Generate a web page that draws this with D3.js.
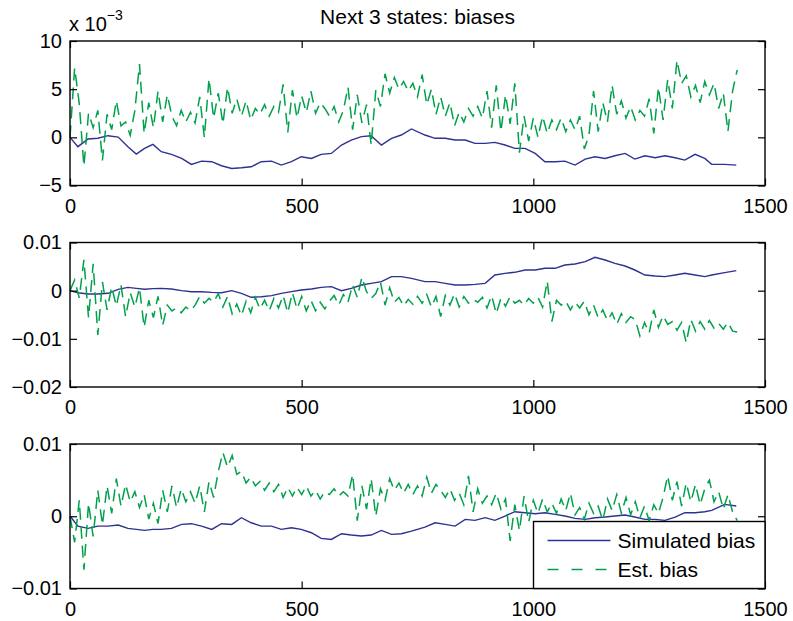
<!DOCTYPE html>
<html>
<head>
<meta charset="utf-8">
<style>
  body { margin: 0; background: #fff; }
  svg text { font-family: Helvetica, "Liberation Sans", Arial, sans-serif; fill: #000; }
</style>
<title>Next 3 states: biases</title>
</head>
<body>
<script src="https://cdn.jsdelivr.net/npm/d3@7"></script>
<script>

// time grid of the simulated bias readings (samples)
var tSim = [0,17,39,60,82,104,125,143,161,179,197,219,241,262,284,306,327,349,370,391,
  413,435,456,478,499,521,542,564,586,607,629,650,672,694,715,737,
  766,788,810,831,853,874,896,917,939,960,982,1004,1025,1047,1068,1090,1112,1133,1155,1176,
  1198,1219,1241,1263,1284,1306,1327,1349,1370,1385,1413,1438];

// all values are in units of 1e-3
var sim1 = [0,-0.97,-0.17,-0.1,0.17,0.03,-0.97,-1.74,-1.15,-0.73,-1.49,-1.77,-2.19,-2.81,-2.47,-2.53,-2.95,-3.23,-3.16,-3.06,
  -2.53,-2.47,-2.88,-2.53,-2.01,-2.19,-1.77,-1.67,-0.8,-0.28,0.07,0.17,-0.8,-0.1,0.24,0.87,
  0.24,-0.1,-0.1,-0.28,-0.28,-0.63,-0.63,-0.52,-0.8,-1.15,-1.15,-1.67,-2.53,-2.53,-2.47,-2.88,-2.26,-2.01,-2.19,-1.91,
  -1.67,-2.26,-1.91,-2.12,-1.91,-2.12,-2.36,-1.77,-2.19,-2.81,-2.81,-2.88];

var sim2 = [0,-0.42,-0.69,-0.69,-0.55,0.28,0.69,0.48,0.28,0.42,0.48,0.35,0,-0.21,-0.21,-0.35,-0.42,0,-0.55,-1.38,
  -1.25,-1.04,-0.55,-0.21,0.14,0.35,0.69,0.83,0,0.48,1.18,1.52,1.87,2.91,2.91,2.56,
  1.87,1.87,1.52,1.18,1.18,1.31,1.52,3.25,3.6,3.81,4.29,4.29,4.64,4.64,5.33,5.54,6.02,6.92,6.37,5.67,
  5.12,4.29,3.25,3.04,2.91,3.25,3.6,3.25,2.91,3.25,3.74,4.15];

var sim3 = [0.03,-1.36,-1.68,-1.36,-1.36,-1.22,-1.68,-1.82,-1.96,-1.82,-1.82,-1.68,-1.13,-1.03,-1.36,-1.82,-1.03,-1.13,-0.2,-0.9,
  -1.36,-1.36,-1.82,-1.59,-1.82,-2.28,-3.07,-3.21,-2.42,-2.6,-2.74,-2.6,-1.96,-2.51,-2.42,-2.05,
  -1.5,-0.9,-1.13,-1.36,-0.43,-0.57,-0.2,-0.57,0.03,0.63,0.49,0.35,0.49,0.26,0.03,-0.3,-0.43,-0.2,-0.11,0.03,
  0.17,-0.11,-0.43,-0.43,-0.57,-0.11,0.49,0.49,0.63,0.81,1.64,1.41];

// estimated bias, one reading every 10 samples from 0 to 1440
var tEst = d3.range(0, 1441, 10);

var est1 = [0,7.2,3.5,-3.0,2.5,1.0,2.8,-2.4,2.4,0.8,
  3.8,1.2,1.6,0.2,2.8,7.6,0.4,3.6,1.0,4.8,
  1.6,4.4,2.2,1.2,2.8,1.6,2.6,1.5,4.2,0.0,
  6.1,2.0,4.6,1.4,5.2,2.5,4.0,2.2,3.8,1.8,
  3.0,2.4,3.4,2.2,3.2,2.6,5.5,0.5,4.9,2.0,
  4.3,2.6,4.8,2.5,3.6,3.0,2.2,3.2,1.6,2.8,
  5.2,0.8,4.4,1.5,3.4,-0.8,4.9,3.2,6.6,4.6,
  6.2,5.0,5.8,4.8,5.6,4.2,6.5,3.4,5.0,2.4,
  4.2,2.2,3.6,1.2,2.6,1.6,3.0,2.2,3.2,2.0,
  4.8,1.0,5.4,0.6,4.4,1.4,5.6,-1.6,2.2,-0.4,
  2.0,0.0,2.2,0.4,1.8,0.8,2.0,0.6,1.8,0.8,
  2.2,-1.2,0.2,4.8,0.6,3.6,1.6,5.4,2.4,3.8,
  2.0,3.2,1.8,2.8,2.2,4.0,0.4,5.2,1.8,6.0,
  3.0,8.0,5.6,6.4,4.2,5.4,3.6,5.8,4.4,5.6,
  3.0,4.6,0.6,4.8,7.0];

var est2 = [0,2.2,-1.5,6.4,-5.6,5.6,-9.2,1.8,-4.0,0.8,
  -3.2,1.2,-5.4,-0.4,-3.4,0.6,-7.6,-2.0,-5.6,-1.2,
  -7.2,-3.0,-4.2,-3.6,-4.6,-3.4,-4.2,-3.0,-1.2,-2.6,
  -1.6,-2.4,-0.6,-3.4,-1.2,-4.8,-2.8,-5.2,-2.2,-4.6,
  -1.4,-3.8,-2.0,-4.2,-1.6,-3.6,-1.0,-4.6,-0.4,-3.8,
  -1.2,-4.2,-2.0,-4.2,-2.4,-3.8,-2.2,-1.0,-3.0,-0.8,
  -2.4,1.2,-1.4,2.8,-0.2,-1.6,-0.6,1.8,-3.0,0.6,
  -2.4,-1.4,-3.2,-1.8,-2.8,-1.2,-2.6,-0.8,-3.4,-1.2,
  -5.4,-1.0,-3.0,-0.6,-3.4,-1.2,-2.6,-1.8,-2.4,-1.4,
  -3.6,-1.0,-4.8,-1.6,-3.2,-1.2,-2.6,-2.0,-3.0,-1.6,
  -2.6,-1.4,-3.4,2.0,-6.4,-2.0,-3.0,-2.2,-4.0,-2.4,
  -3.6,-2.2,-5.0,-3.0,-5.6,-4.0,-6.2,-4.6,-7.0,-4.8,
  -6.6,-5.4,-6.0,-9.4,-6.6,-8.8,-4.0,-7.6,-5.2,-7.0,
  -6.4,-8.2,-6.6,-10.8,-6.0,-8.4,-6.4,-8.0,-6.2,-7.8,
  -6.8,-8.0,-6.6,-8.4,-8.6];

var est3 = [0,-3.6,2.2,-7.4,1.8,-2.8,3.6,-1.2,4.2,0.4,
  5.2,1.4,4.4,2.0,3.4,1.2,3.0,-0.4,1.8,-1.0,
  3.6,0.6,4.2,1.2,3.8,2.0,3.4,1.8,4.2,0.6,
  4.8,2.6,6.2,8.8,6.8,8.4,5.8,6.2,4.6,5.4,
  4.2,4.8,3.6,4.6,3.4,4.4,2.6,4.0,2.8,4.0,
  3.0,4.2,2.8,3.6,2.4,3.4,3.0,3.8,2.8,3.4,
  2.8,5.8,-0.6,4.2,1.0,5.2,0.0,3.8,2.2,5.2,
  3.6,4.6,3.2,4.4,3.0,4.2,2.8,5.4,3.2,4.4,
  3.6,2.6,3.8,2.2,3.2,1.6,5.6,0.6,3.8,1.8,
  2.8,1.6,3.2,1.0,2.4,-3.4,1.6,-2.0,2.8,-0.8,
  2.2,0.4,2.4,0.6,1.8,0.4,2.4,0.8,3.2,0.2,
  1.2,-0.4,1.8,0.4,1.4,-0.6,2.4,0.8,3.0,0.4,
  2.6,0.2,2.0,-0.2,1.4,-0.6,1.6,0.4,2.6,5.6,
  2.2,4.8,1.4,4.6,2.0,4.4,1.6,3.8,5.0,2.0,
  3.4,1.0,3.0,0.6,-0.6];

var xTicks = [0, 500, 1000, 1500];
var yDomains = [[-5, 10], [-20, 10], [-10, 10]];
var yTicks = [[-5, 0, 5, 10], [-20, -10, 0, 10], [-10, 0, 10]];
var legendLabels = ["Simulated bias", "Est. bias"];

var simColor = "#2e3192", estColor = "#00a14b";

var W = 793, H = 621;
var left = 70, right = 765, plotH = 144.5;
var tops = [41, 242.5, 444];
var fontSize = 20, labelSize = 21;

var svg = d3.select("body").append("svg")
    .attr("width", W)
    .attr("height", H);

var x = d3.scaleLinear().domain([0, 1500]).range([left, right]);

function minus(s) { return String(s).replace("-", "\u2212"); }
var fmts = [
  d => minus(d),
  d => d === 0 ? "0" : minus(d / 1000),
  d => d === 0 ? "0" : minus(d / 1000)
];

var sims = [sim1, sim2, sim3];
var ests = [est1, est2, est3];

sims.forEach((sim, i) => {
  var top = tops[i], bottom = top + plotH;
  var y = d3.scaleLinear().domain(yDomains[i]).range([bottom, top]);

  var g = svg.append("g");

  // lines first, the box and ticks go over them
  var line = d3.line().x(d => x(d[0])).y(d => y(d[1]));

  g.append("path")
    .datum(tSim.map((t, k) => [t, sim[k]]))
    .attr("d", line)
    .attr("fill", "none")
    .attr("stroke", simColor)
    .attr("stroke-width", 1.4);

  g.append("path")
    .datum(tEst.map((t, k) => [t, ests[i][k]]))
    .attr("d", line)
    .attr("fill", "none")
    .attr("stroke", estColor)
    .attr("stroke-width", 1.5)
    .attr("stroke-dasharray", "12,7");

  // axes with inward ticks on all four sides
  g.append("g").attr("transform", `translate(0,${bottom})`)
    .call(d3.axisBottom(x).tickValues(xTicks).tickSizeInner(-7).tickSizeOuter(0)
      .tickPadding(13).tickFormat(d3.format("d")));
  g.append("g").attr("transform", `translate(0,${top})`)
    .call(d3.axisTop(x).tickValues(xTicks).tickSizeInner(-7).tickSizeOuter(0).tickFormat(""));
  g.append("g").attr("transform", `translate(${left},0)`)
    .call(d3.axisLeft(y).tickValues(yTicks[i]).tickSizeInner(-7).tickSizeOuter(0).tickPadding(8).tickFormat(fmts[i]));
  g.append("g").attr("transform", `translate(${right},0)`)
    .call(d3.axisRight(y).tickValues(yTicks[i]).tickSizeInner(-7).tickSizeOuter(0).tickFormat(""));

  g.selectAll(".domain").remove();
  g.selectAll(".tick line").attr("stroke", "#000").attr("stroke-width", 1.2);
  g.selectAll(".tick text")
    .style("font-size", fontSize + "px")
    .style("font-family", "Helvetica, 'Liberation Sans', Arial, sans-serif");

  g.append("rect")
    .attr("x", left).attr("y", top)
    .attr("width", right - left).attr("height", plotH)
    .attr("fill", "none")
    .attr("stroke", "#000")
    .attr("stroke-width", 1.4);
});

// title and exponent label of the first panel
svg.append("text")
  .attr("x", (left + right) / 2).attr("y", 24)
  .attr("text-anchor", "middle")
  .style("font-size", labelSize + "px")
  .text("Next 3 states: biases");

var expo = svg.append("text")
  .attr("x", left - 1).attr("y", 31)
  .style("font-size", fontSize + "px");
expo.append("tspan").text("x 10");
expo.append("tspan").attr("dy", -11).style("font-size", "14px").text("\u22123");

// legend in the lower right of the last panel
var lg = svg.append("g");
var lx = 533.5, ly = 521.5, lw = right - lx, lh = tops[2] + plotH - ly;
lg.append("rect")
  .attr("x", lx).attr("y", ly).attr("width", lw).attr("height", lh)
  .attr("fill", "#fff").attr("stroke", "#000").attr("stroke-width", 1.4);

legendLabels.forEach((name, i) => {
  var yy = ly + 19 + i * 29;
  lg.append("line")
    .attr("x1", lx + 14).attr("x2", lx + 77)
    .attr("y1", yy).attr("y2", yy)
    .attr("stroke", i === 0 ? simColor : estColor)
    .attr("stroke-width", 1.3)
    .attr("stroke-dasharray", i === 0 ? null : "11,13");
  lg.append("text")
    .attr("x", lx + 84).attr("y", yy)
    .attr("dy", "0.35em")
    .style("font-size", labelSize + "px")
    .text(name);
});

</script>
</body>
</html>
